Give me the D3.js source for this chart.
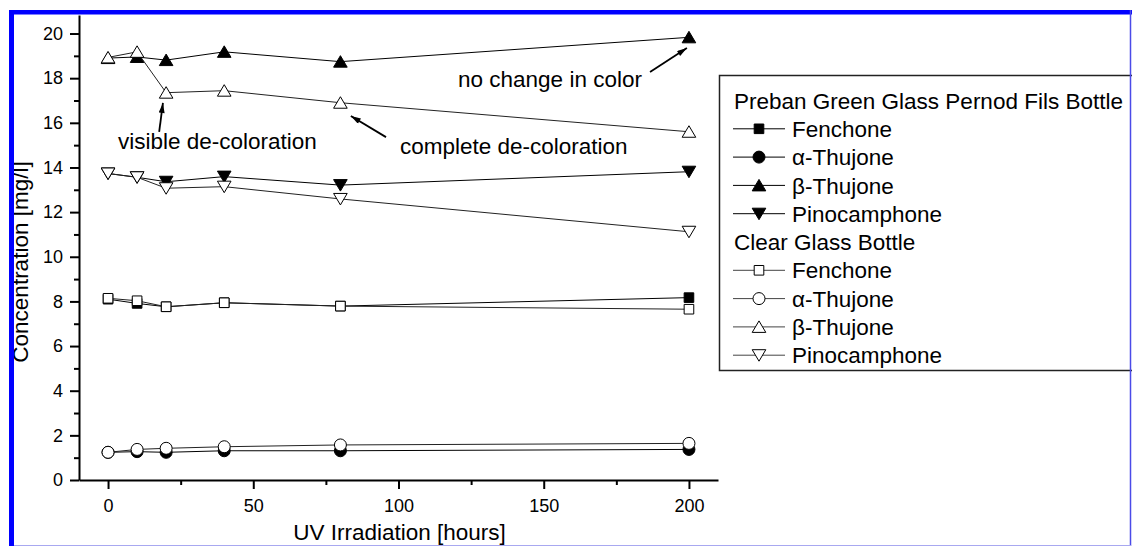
<!DOCTYPE html>
<html>
<head>
<meta charset="utf-8">
<script src="https://cdn.jsdelivr.net/npm/d3@7"></script>
<style>
  body { margin: 0; background: #fff; }
  svg { display: block; }
  text { font-family: "Liberation Sans", Arial, sans-serif; fill: #000; }
</style>
</head>
<body>
<div id="chart"></div>
<script>
// irradiation times (hours)
const hours = [0, 10, 20, 40, 80, 200];

// green glass bottle (filled symbols)
const fenchoneGreen = [8.10, 7.91, 7.76, 7.94, 7.79, 8.17];
const aThujoneGreen = [1.24, 1.27, 1.24, 1.31, 1.31, 1.37];
const bThujoneGreen = [18.90, 18.95, 18.81, 19.18, 18.74, 19.83];
const pinocamphoneGreen = [13.73, 13.56, 13.36, 13.59, 13.21, 13.81];

// clear glass bottle (open symbols)
const fenchoneClear = [8.14, 8.03, 7.76, 7.94, 7.79, 7.65];
const aThujoneClear = [1.24, 1.37, 1.42, 1.49, 1.57, 1.64];
const bThujoneClear = [18.93, 19.18, 17.35, 17.44, 16.90, 15.60];
const pinocamphoneClear = [13.73, 13.56, 13.07, 13.14, 12.59, 11.12];

const xTicks = [0, 50, 100, 150, 200];
const xMinorTicks = [25, 75, 125, 175];
const yTicks = [0, 2, 4, 6, 8, 10, 12, 14, 16, 18, 20];
const yMinorTicks = [1, 3, 5, 7, 9, 11, 13, 15, 17, 19];

const legendTitles = ["Preban Green Glass Pernod Fils Bottle", "Clear Glass Bottle"];

const series = [
    { name: "Fenchone", values: fenchoneGreen, shape: "square", filled: true },
    { name: "α-Thujone", values: aThujoneGreen, shape: "circle", filled: true },
    { name: "β-Thujone", values: bThujoneGreen, shape: "up", filled: true },
    { name: "Pinocamphone", values: pinocamphoneGreen, shape: "down", filled: true },
    { name: "Fenchone", values: fenchoneClear, shape: "square", filled: false },
    { name: "α-Thujone", values: aThujoneClear, shape: "circle", filled: false },
    { name: "β-Thujone", values: bThujoneClear, shape: "up", filled: false },
    { name: "Pinocamphone", values: pinocamphoneClear, shape: "down", filled: false }
];

// annotations in data units: text start, arrow tail, arrow tip
const annotations = [
    { text: "visible de-coloration", at: [3.4, 14.83], from: [17.6, 15.59], to: [18.9, 16.89] },
    { text: "complete de-coloration", at: [100.5, 14.60], from: [95.7, 15.36], to: [83.6, 16.31] },
    { text: "no change in color", at: [120.5, 17.60], from: [186.6, 18.28], to: [199.3, 19.35] }
];

const width = 1132;
const height = 546;

const svg = d3.select("#chart").append("svg")
    .attr("width", width)
    .attr("height", height);

const x = d3.scaleLinear().domain([-10, 210]).range([79, 718]);
const y = d3.scaleLinear().domain([0, 20.83]).range([480, 15]);

// custom marker shapes (bounding box centred on the point)
function shapePath(shape) {
    const p = d3.path();
    if (shape === "square") {
        p.rect(-4.8, -4.8, 9.6, 9.6);
    } else if (shape === "circle") {
        p.arc(0, 0, 6, 0, 2 * Math.PI);
    } else if (shape === "up") {
        p.moveTo(0, -6); p.lineTo(6.8, 5.5); p.lineTo(-6.8, 5.5); p.closePath();
    } else {
        p.moveTo(0, 6); p.lineTo(6.8, -5.5); p.lineTo(-6.8, -5.5); p.closePath();
    }
    return p.toString();
}

// axes
svg.append("g")
    .attr("transform", "translate(79,0)")
    .call(d3.axisLeft(y).tickValues(yTicks).tickSize(9).tickSizeOuter(0).tickPadding(7));
svg.append("g")
    .attr("transform", "translate(79,0)")
    .call(d3.axisLeft(y).tickValues(yMinorTicks).tickSize(5).tickFormat(""))
    .select(".domain").remove();

svg.append("g")
    .attr("transform", "translate(0,480)")
    .call(d3.axisBottom(x).tickValues(xTicks).tickSize(9).tickSizeOuter(0).tickPadding(10));
svg.append("g")
    .attr("transform", "translate(0,480)")
    .call(d3.axisBottom(x).tickValues(xMinorTicks).tickSize(5).tickFormat(""))
    .select(".domain").remove();

svg.selectAll(".domain, .tick line")
    .attr("stroke", "#000")
    .attr("stroke-width", 2);
svg.selectAll(".tick text")
    .style("font-size", "18px")
    .style("font-family", "'Liberation Sans', Arial, sans-serif");

// axis titles
svg.append("text")
    .attr("x", (x.range()[0] + x.range()[1]) / 2 + 1)
    .attr("y", 540)
    .attr("text-anchor", "middle")
    .style("font-size", "22.5px")
    .text("UV Irradiation [hours]");

svg.append("text")
    .attr("transform", "translate(28,262) rotate(-90)")
    .attr("text-anchor", "middle")
    .style("font-size", "22.5px")
    .text("Concentration [mg/l]");

// lines and markers
const line = d3.line()
    .x((d, i) => x(hours[i]))
    .y(d => y(d));

series.forEach(s => {
    const g = svg.append("g");
    g.append("path")
        .datum(s.values)
        .attr("fill", "none")
        .attr("stroke", s.filled ? "#000" : "#222")
        .attr("stroke-width", 1)
        .attr("d", line);
    g.selectAll("path.pt")
        .data(s.values)
        .enter().append("path")
        .attr("class", "pt")
        .attr("transform", (d, i) => `translate(${x(hours[i])},${y(d)})`)
        .attr("d", shapePath(s.shape))
        .attr("fill", s.filled ? "#000" : "#fff")
        .attr("stroke", "#000")
        .attr("stroke-width", 1);
});

// annotations
svg.append("defs").append("marker")
    .attr("id", "arrow")
    .attr("viewBox", "0 0 10 6")
    .attr("refX", 10)
    .attr("refY", 3)
    .attr("markerWidth", 11)
    .attr("markerHeight", 6)
    .attr("markerUnits", "userSpaceOnUse")
    .attr("orient", "auto")
    .append("path")
    .attr("d", "M0,0 L10,3 L0,6 Z")
    .attr("fill", "#000");

annotations.forEach(a => {
    svg.append("text")
        .attr("x", x(a.at[0]))
        .attr("y", y(a.at[1]))
        .style("font-size", "22.5px")
        .text(a.text);
    svg.append("line")
        .attr("x1", x(a.from[0])).attr("y1", y(a.from[1]))
        .attr("x2", x(a.to[0])).attr("y2", y(a.to[1]))
        .attr("stroke", "#000")
        .attr("stroke-width", 1.8)
        .attr("marker-end", "url(#arrow)");
});

// legend
const legend = svg.append("g");
legend.append("rect")
    .attr("x", 719.5)
    .attr("y", 75.5)
    .attr("width", 440)
    .attr("height", 295)
    .attr("fill", "#fff")
    .attr("stroke", "#222")
    .attr("stroke-width", 1.5);

const rowH = 28.3;
const rows = [];
rows.push({ title: legendTitles[0] });
series.slice(0, 4).forEach(s => rows.push({ s }));
rows.push({ title: legendTitles[1] });
series.slice(4).forEach(s => rows.push({ s }));

rows.forEach((r, i) => {
    const cy = 100.5 + i * rowH;
    if (r.title) {
        legend.append("text")
            .attr("x", 734)
            .attr("y", cy)
            .attr("dy", "0.36em")
            .style("font-size", "22.5px")
            .text(r.title);
    } else {
        legend.append("line")
            .attr("x1", 733).attr("x2", 785)
            .attr("y1", cy).attr("y2", cy)
            .attr("stroke", r.s.filled ? "#000" : "#444")
            .attr("stroke-width", 1);
        legend.append("path")
            .attr("transform", `translate(759,${cy})`)
            .attr("d", shapePath(r.s.shape))
            .attr("fill", r.s.filled ? "#000" : "#fff")
            .attr("stroke", "#000")
            .attr("stroke-width", 1);
        legend.append("text")
            .attr("x", 792)
            .attr("y", cy)
            .attr("dy", "0.36em")
            .style("font-size", "22.5px")
            .text(r.s.name);
    }
});

// blue frame
svg.append("rect").attr("x", 9).attr("y", 10).attr("width", width - 9).attr("height", 4.5).attr("fill", "#0000ff");
svg.append("rect").attr("x", 9).attr("y", 10).attr("width", 5).attr("height", height - 10).attr("fill", "#0000ff");
svg.append("line").attr("x1", 1130.5).attr("x2", 1130.5).attr("y1", 10).attr("y2", height)
    .attr("stroke", "#4a4ae8").attr("stroke-width", 1.5);
svg.append("line").attr("x1", 14).attr("x2", 1131).attr("y1", 545.5).attr("y2", 545.5)
    .attr("stroke", "#a8a8f0").attr("stroke-width", 1);
</script>
</body>
</html>
